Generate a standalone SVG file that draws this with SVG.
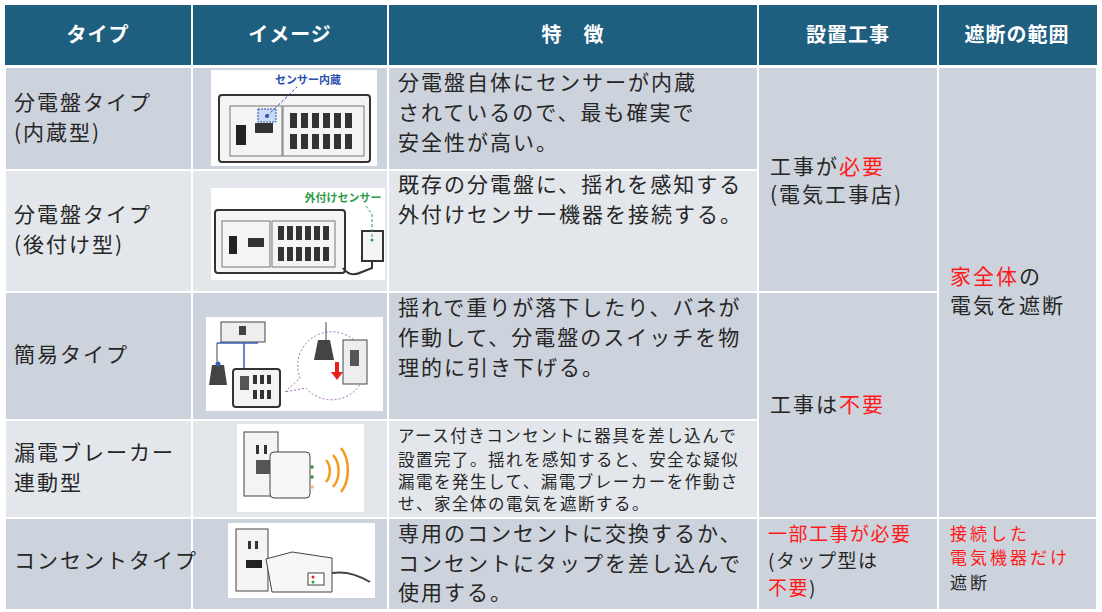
<svg xmlns="http://www.w3.org/2000/svg" width="1102" height="612" viewBox="0 0 1102 612">
<style>
text{font-family:"Noto Sans CJK JP","Noto Sans",sans-serif;fill:#262626}
.h{fill:#fff;font-weight:bold;font-size:20px;text-anchor:middle;letter-spacing:1px}
.t{font-size:21px;letter-spacing:2px}
.s{font-size:16.5px;letter-spacing:1.5px}
.r{fill:#ff1a1a}
.d{fill:#cdd3dc}.l{fill:#e3e7ec}
.ln{stroke:#333;stroke-width:2;fill:#f4f4f4}
</style>
<rect width="1102" height="612" fill="#fff"/>
<g id="header">
<rect x="5" y="5" width="1092" height="60" fill="#1e5e7f"/>
<g stroke="#fff" stroke-width="2"><line x1="192" y1="5" x2="192" y2="65"/><line x1="388" y1="5" x2="388" y2="65"/><line x1="758" y1="5" x2="758" y2="65"/><line x1="938" y1="5" x2="938" y2="65"/></g>
<text class="h" x="98" y="42">タイプ</text><text class="h" x="290" y="42">イメージ</text><text class="h" x="573" y="42">特　徴</text><text class="h" x="848" y="42">設置工事</text><text class="h" x="1017" y="42">遮断の範囲</text>
</g>
<g id="cells" stroke="#fff" stroke-width="2">
<rect class="d" x="5" y="67" width="187" height="103"/><rect class="d" x="192" y="67" width="196" height="103"/><rect class="d" x="388" y="67" width="370" height="103"/>
<rect class="l" x="5" y="170" width="187" height="122"/><rect class="l" x="192" y="170" width="196" height="122"/><rect class="l" x="388" y="170" width="370" height="122"/>
<rect class="d" x="5" y="292" width="187" height="128"/><rect class="d" x="192" y="292" width="196" height="128"/><rect class="d" x="388" y="292" width="370" height="128"/>
<rect class="l" x="5" y="420" width="187" height="98"/><rect class="l" x="192" y="420" width="196" height="98"/><rect class="l" x="388" y="420" width="370" height="98"/>
<rect class="d" x="5" y="518" width="187" height="92"/><rect class="d" x="192" y="518" width="196" height="92"/><rect class="d" x="388" y="518" width="370" height="92"/>
<rect class="d" x="758" y="67" width="180" height="225"/><rect class="d" x="758" y="292" width="180" height="226"/><rect class="d" x="758" y="518" width="180" height="92"/>
<rect class="d" x="938" y="67" width="159" height="451"/><rect class="d" x="938" y="518" width="159" height="92"/>
</g>
<g id="row1">
<text class="t" x="14" y="110">分電盤タイプ</text><text class="t" x="14" y="140">(内蔵型)</text>
<g id="img1"><rect x="211" y="70" width="166" height="96" fill="#fff"/>
<text x="308" y="84" font-size="11" font-weight="bold" style="fill:#2b4fae" text-anchor="middle">センサー内蔵</text>
<rect x="219" y="95" width="151" height="67" rx="3" class="ln"/><rect x="230" y="106" width="52" height="50" fill="none" stroke="#777"/><rect x="283" y="106" width="81" height="50" fill="none" stroke="#777"/>
<rect x="236" y="125" width="10" height="20" fill="#222"/><rect x="255" y="123" width="18" height="10" fill="#333"/>
<rect x="258" y="109" width="18" height="13" fill="#c9dbf4" stroke="#2b4fae" stroke-dasharray="2,1"/><circle cx="267" cy="116" r="2" fill="#2b4fae"/><line x1="267" y1="116" x2="297" y2="87" stroke="#2b4fae" stroke-dasharray="3,2"/>
<g fill="#333"><rect x="290" y="113" width="7" height="15"/><rect x="301" y="113" width="7" height="15"/><rect x="312" y="113" width="7" height="15"/><rect x="323" y="113" width="7" height="15"/><rect x="334" y="113" width="7" height="15"/><rect x="345" y="113" width="7" height="15"/>
<rect x="290" y="134" width="7" height="15"/><rect x="301" y="134" width="7" height="15"/><rect x="312" y="134" width="7" height="15"/><rect x="323" y="134" width="7" height="15"/><rect x="334" y="134" width="7" height="15"/><rect x="345" y="134" width="7" height="15"/></g></g>
<text class="t" x="398" y="90">分電盤自体にセンサーが内蔵</text><text class="t" x="398" y="120">されているので、最も確実で</text><text class="t" x="398" y="150">安全性が高い。</text>
</g>
<g id="row2">
<text class="t" x="14" y="222">分電盤タイプ</text><text class="t" x="14" y="252">(後付け型)</text>
<g id="img2"><rect x="211" y="188" width="174" height="92" fill="#fff"/>
<text x="343" y="202" font-size="11" font-weight="bold" style="fill:#2e9a4a" text-anchor="middle">外付けセンサー</text>
<rect x="215" y="210" width="130" height="63" rx="3" class="ln"/><rect x="222" y="221" width="48" height="46" fill="none" stroke="#777"/><rect x="272" y="221" width="63" height="46" fill="none" stroke="#777"/>
<rect x="229" y="236" width="8" height="18" fill="#222"/><rect x="248" y="238" width="16" height="9" fill="#333"/>
<g fill="#333"><rect x="278" y="226" width="6" height="14"/><rect x="287" y="226" width="6" height="14"/><rect x="296" y="226" width="6" height="14"/><rect x="305" y="226" width="6" height="14"/><rect x="314" y="226" width="6" height="14"/><rect x="323" y="226" width="6" height="14"/>
<rect x="278" y="247" width="6" height="14"/><rect x="287" y="247" width="6" height="14"/><rect x="296" y="247" width="6" height="14"/><rect x="305" y="247" width="6" height="14"/><rect x="314" y="247" width="6" height="14"/><rect x="323" y="247" width="6" height="14"/></g>
<rect x="362" y="231" width="21" height="30" class="ln" stroke-width="1.2"/><circle cx="372" cy="240" r="1.5" fill="#2e9a4a"/>
<path d="M366 206 L372 214 L372 238" fill="none" stroke="#2e9a4a" stroke-dasharray="3,2"/>
<path d="M343 268 Q350 278 362 272 L372 268 L372 261" fill="none" stroke="#333" stroke-width="2"/></g>
<text class="t" x="398" y="192">既存の分電盤に、揺れを感知する</text><text class="t" x="398" y="222">外付けセンサー機器を接続する。</text>
</g>
<g id="row3">
<text class="t" x="14" y="362">簡易タイプ</text>
<g id="img3"><rect x="206" y="317" width="177" height="94" fill="#fff"/>
<rect x="221" y="322" width="44" height="20" fill="#eee" stroke="#444"/><rect x="239" y="326" width="7" height="9" fill="#444"/>
<path d="M217 343 H258 M244 343 V370" stroke="#3a5fb0" stroke-width="1.5" fill="none"/><path d="M217 343 V362" stroke="#444"/>
<path d="M212 365 h12 l3 20 h-18z" fill="#444"/><circle cx="218" cy="364" r="2.5" fill="#3a5fb0"/>
<rect x="233" y="369" width="47" height="38" rx="3" class="ln" stroke-width="1.2"/><rect x="240" y="376" width="9" height="14" fill="#555"/>
<g fill="#333"><rect x="253" y="375" width="4" height="9"/><rect x="260" y="375" width="4" height="9"/><rect x="267" y="375" width="4" height="9"/><rect x="253" y="390" width="4" height="9"/><rect x="260" y="390" width="4" height="9"/><rect x="267" y="390" width="4" height="9"/></g>
<path d="M285 392 L300 378 A34 34 0 1 1 306 388 Z" fill="#fff" stroke="#9c6bb5" stroke-dasharray="2,2"/>
<path d="M318 340 h12 l4 20 h-20z" fill="#444"/><line x1="326" y1="322" x2="326" y2="340" stroke="#444"/>
<rect x="343" y="340" width="24" height="44" fill="#eee" stroke="#444"/><rect x="350" y="350" width="9" height="16" fill="#555"/>
<path d="M335 362 v10 h-4 l6 8 l6 -8 h-4 v-10z" fill="#e8201c"/></g>
<text class="t" x="398" y="315">揺れで重りが落下したり、バネが</text><text class="t" x="398" y="345">作動して、分電盤のスイッチを物</text><text class="t" x="398" y="375">理的に引き下げる。</text>
</g>
<g id="row4">
<text class="t" x="14" y="460">漏電ブレーカー</text><text class="t" x="14" y="490">連動型</text>
<g id="img4"><rect x="237" y="424" width="127" height="88" fill="#fff"/>
<rect x="244" y="432" width="34" height="64" fill="#f4f4f4" stroke="#444"/><rect x="256" y="445" width="3" height="9" fill="#333"/><rect x="264" y="445" width="3" height="9" fill="#333"/>
<rect x="256" y="460" width="16" height="14" fill="#555"/>
<rect x="270" y="452" width="40" height="46" rx="4" fill="#f6f6f6" stroke="#444"/>
<circle cx="312" cy="467" r="1.8" fill="#3a8a3a"/><circle cx="312" cy="477" r="1.8" fill="#3a8a3a"/><circle cx="312" cy="487" r="1.8" fill="#f6b08a"/>
<g fill="none" stroke="#f39a1c" stroke-width="2.5"><path d="M326 460 a10 14 0 0 1 0 22"/><path d="M333 455 a14 20 0 0 1 0 32"/><path d="M341 448 a18 28 0 0 1 0 44"/></g></g>
<text class="s" x="398" y="442">アース付きコンセントに器具を差し込んで</text><text class="s" x="398" y="466">設置完了。揺れを感知すると、安全な疑似</text><text class="s" x="398" y="488">漏電を発生して、漏電ブレーカーを作動さ</text><text class="s" x="398" y="510">せ、家全体の電気を遮断する。</text>
</g>
<g id="row5">
<text class="t" x="14" y="568" letter-spacing="0.5">コンセントタイプ</text>
<g id="img5"><rect x="228" y="523" width="147" height="75" fill="#fff"/>
<rect x="236" y="529" width="32" height="62" fill="#f4f4f4" stroke="#444"/><rect x="248" y="541" width="3" height="8" fill="#333"/><rect x="255" y="541" width="3" height="8" fill="#333"/>
<rect x="246" y="560" width="16" height="8" fill="#222"/>
<path d="M266 559 L292 552 L332 558 L332 592 L272 592 Z" fill="#f6f6f6" stroke="#444"/>
<rect x="308" y="573" width="16" height="12" fill="#fff" stroke="#444"/><circle cx="313" cy="577" r="1.5" fill="#d22"/><circle cx="313" cy="582" r="1.5" fill="#2a2"/>
<path d="M332 573 Q350 570 370 582" fill="none" stroke="#444" stroke-width="2"/></g>
<text class="t" x="398" y="541">専用のコンセントに交換するか、</text><text class="t" x="398" y="571">コンセントにタップを差し込んで</text><text class="t" x="398" y="600">使用する。</text>
</g>
<g id="col4">
<text class="t" x="770" y="174">工事が<tspan class="r">必要</tspan></text><text class="t" x="770" y="202">(電気工事店)</text>
<text class="t" x="770" y="412">工事は<tspan class="r">不要</tspan></text>
<text x="768" y="541" font-size="19" letter-spacing="1.5" class="r">一部工事が必要</text><text x="768" y="568" font-size="19" letter-spacing="1.5">(タップ型は</text><text x="768" y="595" font-size="19" letter-spacing="1.5"><tspan class="r">不要</tspan>)</text>
</g>
<g id="col5">
<text class="t" x="950" y="284"><tspan class="r">家全体</tspan>の</text><text class="t" x="950" y="313">電気を遮断</text>
<text x="950" y="540" font-size="17" letter-spacing="3" class="r">接続した</text><text x="950" y="564" font-size="17" letter-spacing="3" class="r">電気機器だけ</text><text x="950" y="589" font-size="17" letter-spacing="3">遮断</text>
</g>
</svg>
